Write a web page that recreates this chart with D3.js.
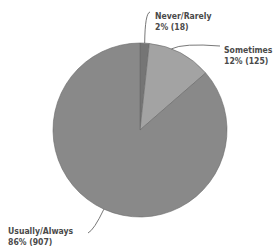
<!DOCTYPE html>
<html>
<head>
<meta charset="utf-8">
<script src="https://cdn.jsdelivr.net/npm/d3@7"></script>
<style>
body { margin: 0; background: #fff; }
text { font-family: "DejaVu Sans Condensed", "DejaVu Sans", sans-serif; font-weight: bold; fill: #4a4a4a; font-size: 8.6px; }
</style>
</head>
<body>
<div id="chart"></div>
<script>
const categories = ["Never/Rarely", "Sometimes", "Usually/Always"];
const counts = [18, 125, 907];
const percents = ["2%", "12%", "86%"];
const colors = ["#757575", "#a3a3a3", "#898989"];

const w = 277, h = 250;
const cx = 140, cy = 130, r = 87;

const svg = d3.select("#chart").append("svg")
    .attr("width", w)
    .attr("height", h);

const pie = d3.pie().sort(null).value(d => d);
const arcs = pie(counts);
const arc = d3.arc().innerRadius(0).outerRadius(r);

const g = svg.append("g").attr("transform", "translate(" + cx + "," + cy + ")");
g.selectAll("path")
    .data(arcs)
    .enter()
    .append("path")
    .attr("d", arc)
    .attr("fill", (d, i) => colors[i])
    .attr("stroke", "#6a6a6a")
    .attr("stroke-width", 0.6);

// label positions and leader line bends
const labelPos = [
    { x: 155, y: 19, anchor: "start", bend: [145, 13], end: [150, 12], a: 0.5 },
    { x: 224, y: 53, anchor: "start", bend: [183, 43], end: [220, 46], a: 0.35 },
    { x: 8, y: 234, anchor: "start", bend: [94, 230], end: [88, 233], a: 0.5 }
];

arcs.forEach(function (d, i) {
    const p = labelPos[i];
    const ang = d.startAngle + (d.endAngle - d.startAngle) * p.a;
    const sx = cx + Math.sin(ang) * r;
    const sy = cy - Math.cos(ang) * r;
    const path = d3.path();
    path.moveTo(sx, sy);
    path.quadraticCurveTo(p.bend[0], p.bend[1], p.end[0], p.end[1]);
    svg.append("path")
        .attr("d", path.toString())
        .attr("fill", "none")
        .attr("stroke", "#555")
        .attr("stroke-width", 0.8);
    const t = svg.append("text")
        .attr("x", p.x)
        .attr("y", p.y)
        .attr("text-anchor", p.anchor);
    t.append("tspan").attr("x", p.x).text(categories[i]);
    t.append("tspan").attr("x", p.x).attr("dy", 11)
        .text(percents[i] + " (" + counts[i] + ")");
});
</script>
</body>
</html>
